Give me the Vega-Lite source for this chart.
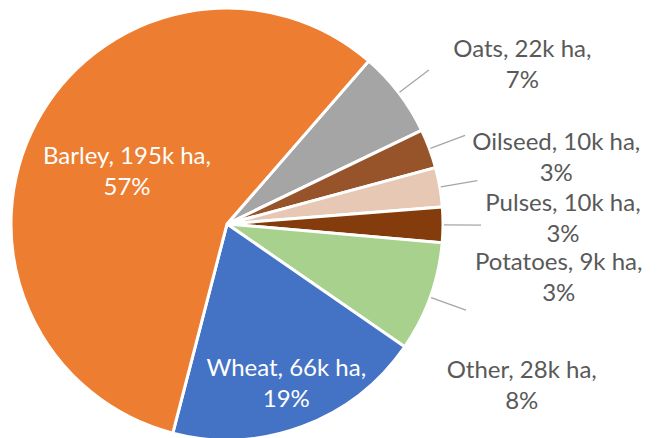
{
  "$schema": "https://vega.github.io/schema/vega-lite/v6.json",
  "width": 454,
  "height": 448,
  "padding": {"left": 0, "top": 0, "right": 204, "bottom": 0},
  "autosize": {"type": "none"},
  "background": "white",
  "config": {"view": {"stroke": null}},
  "data": {"values": [
    {"crop": "Oats", "area": 22, "label": "Oats, 22k ha,\n7%"},
    {"crop": "Oilseed", "area": 10, "label": "Oilseed, 10k ha,\n3%"},
    {"crop": "Pulses", "area": 10, "label": "Pulses, 10k ha,\n3%"},
    {"crop": "Potatoes", "area": 9, "label": "Potatoes, 9k ha,\n3%"},
    {"crop": "Other", "area": 28, "label": "Other, 28k ha,\n8%"},
    {"crop": "Wheat", "area": 66, "label": "Wheat, 66k ha,\n19%"},
    {"crop": "Barley", "area": 195, "label": "Barley, 195k ha,\n57%"}
  ]},
  "transform": [{"window": [{"op": "row_number", "as": "idx"}]}],
  "resolve": {"scale": {"theta": "independent"}},
  "layer": [
    {
      "mark": {"type": "arc", "outerRadius": 216, "stroke": "white", "strokeWidth": 3},
      "encoding": {
        "theta": {"field": "area", "type": "quantitative", "stack": true, "scale": {"range": [0.7156, 6.9988]}},
        "order": {"field": "idx", "type": "quantitative"},
        "color": {"field": "crop", "type": "nominal", "legend": null,
          "scale": {"domain": ["Oats", "Oilseed", "Pulses", "Potatoes", "Other", "Wheat", "Barley"],
                    "range": ["#A5A5A5", "#97532A", "#E6C8B4", "#843C0C", "#A9D18E", "#4472C4", "#ED7D31"]}}
      }
    },
    {
      "mark": {"type": "arc", "innerRadius": 217, "outerRadius": 254, "padAngle": 3, "filled": false, "stroke": "#A6A6A6", "strokeWidth": 1.3},
      "encoding": {
        "theta": {"field": "area", "type": "quantitative", "stack": true, "scale": {"range": [0.7156, 6.9988]}},
        "order": {"field": "idx", "type": "quantitative"},
        "strokeOpacity": {"condition": {"test": "datum.crop === 'Barley' || datum.crop === 'Wheat'", "value": 0}, "value": 1}
      }
    },
    {
      "mark": {"type": "text", "radius": 113, "dy": -14, "fill": "white", "fontSize": 24, "font": "Lato", "lineBreak": "\n", "align": "center", "baseline": "middle", "lineHeight": 31},
      "encoding": {
        "theta": {"field": "area", "type": "quantitative", "stack": true, "scale": {"range": [0.7156, 6.9988]}},
        "order": {"field": "idx", "type": "quantitative"},
        "text": {"field": "label", "type": "nominal"},
        "opacity": {"condition": {"test": "datum.crop === 'Barley'", "value": 1}, "value": 0}
      }
    },
    {
      "mark": {"type": "text", "radius": 170, "dy": -14, "fill": "white", "fontSize": 24, "font": "Lato", "lineBreak": "\n", "align": "center", "baseline": "middle", "lineHeight": 31},
      "encoding": {
        "theta": {"field": "area", "type": "quantitative", "stack": true, "scale": {"range": [0.7156, 6.9988]}},
        "order": {"field": "idx", "type": "quantitative"},
        "text": {"field": "label", "type": "nominal"},
        "opacity": {"condition": {"test": "datum.crop === 'Wheat'", "value": 1}, "value": 0}
      }
    },
    {
      "mark": {"type": "text", "radius": 336, "dy": -14, "fill": "#595959", "fontSize": 24, "font": "Lato", "lineBreak": "\n", "align": "center", "baseline": "middle", "lineHeight": 31},
      "encoding": {
        "theta": {"field": "area", "type": "quantitative", "stack": true, "scale": {"range": [0.8706, 7.1538]}},
        "order": {"field": "idx", "type": "quantitative"},
        "text": {"field": "label", "type": "nominal"},
        "opacity": {"condition": {"test": "datum.crop === 'Barley' || datum.crop === 'Wheat'", "value": 0}, "value": 1}
      }
    }
  ]
}
